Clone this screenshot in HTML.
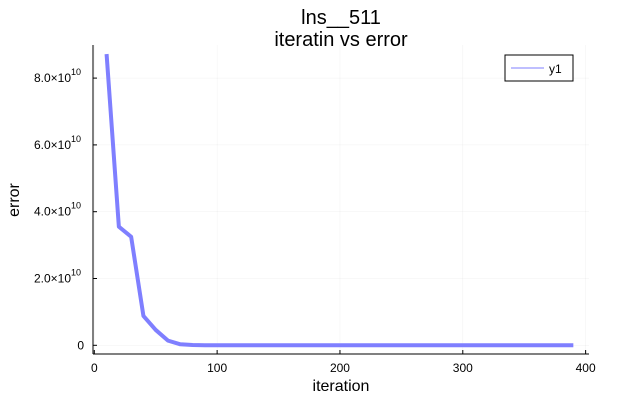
<!DOCTYPE html>
<html><head><meta charset="utf-8"><style>
body{margin:0;background:#fff;}
text{font-family:"Liberation Sans","DejaVu Sans",sans-serif;fill:#000;}
</style></head><body>
<svg id="chart" width="631" height="410" xmlns="http://www.w3.org/2000/svg">
<text x="341" y="24" font-size="20" text-anchor="middle">lns__511</text>
<text x="341" y="46" font-size="20" text-anchor="middle">iteratin vs error</text>
<g id="grid"></g>
<g id="ticks"></g>
<line x1="93" y1="45" x2="93" y2="354" stroke="#000" stroke-width="1"/>
<line x1="93" y1="354" x2="589" y2="354" stroke="#000" stroke-width="1"/>
<text x="341" y="391" font-size="16" text-anchor="middle">iteration</text>
<text transform="translate(19,200) rotate(-90)" font-size="16" text-anchor="middle">error</text>
<polyline id="series" fill="none" stroke="#7f7fff" stroke-width="4" stroke-linejoin="round"/>
<g>
<rect x="505" y="55" width="68" height="26" fill="#fff" stroke="#000" stroke-width="1"/>
<line x1="511" y1="68" x2="544" y2="68" stroke="#7f7fff" stroke-width="1"/>
<text x="549" y="73" font-size="12">y1</text>
</g>
</svg>
<script>
const xs=[10,20,30,40,50,60,70,80,90,100,110,120,130,140,150,160,170,180,190,200,210,220,230,240,250,260,270,280,290,300,310,320,330,340,350,360,370,380,390];
const ys=[8.72e10,3.55e10,3.25e10,0.88e10,0.46e10,0.14e10,0.03e10,0.01e10,0,0,0,0,0,0,0,0,0,0,0,0,0,0,0,0,0,0,0,0,0,0,0,0,0,0,0,0,0,0,0];
const xTicks=[0,100,200,300,400];
const yTicks=[0,2e10,4e10,6e10,8e10];
const yTickLabels=["0","2.0×10","4.0×10","6.0×10","8.0×10"];
const X=v=>94.3+v*1.2283;
const Y=v=>345.3-v*33.4e-10;
const ns="http://www.w3.org/2000/svg";
const grid=document.getElementById('grid'),ticks=document.getElementById('ticks');
function mk(tag,attrs,parent){const e=document.createElementNS(ns,tag);for(const k in attrs)e.setAttribute(k,attrs[k]);parent.appendChild(e);return e;}
xTicks.forEach(t=>{
 const g=mk('line',{x1:X(t),x2:X(t),y1:45,y2:354,stroke:'#000','stroke-opacity':0.06,'stroke-width':0.5},grid);
 
 
 mk('line',{x1:X(t),x2:X(t),y1:354,y2:350,stroke:'#000'},ticks);
 const l=mk('text',{x:X(t),y:372,'font-size':12,'text-anchor':'middle'},ticks);
 l.textContent=t;
 
 
});
yTicks.forEach((t,i)=>{
 const g=mk('line',{x1:93,x2:589,y1:Y(t),y2:Y(t),stroke:'#000','stroke-opacity':0.06,'stroke-width':0.5},grid);
 
 
 mk('line',{x1:93,x2:97,y1:Y(t),y2:Y(t),stroke:'#000'},ticks);
 const l=mk('text',{x:i===0?84:71,y:Y(t)+4,'font-size':12,'text-anchor':'end'},ticks);
 l.textContent=yTickLabels[i];
 
 
 if(i>0){const s=mk('text',{x:71,y:Y(t)-3,'font-size':9},ticks);s.textContent='10';
 
 }
});
document.getElementById('series').setAttribute('points',xs.map((x,i)=>X(x)+','+Y(ys[i])).join(' '));
</script>
</body></html>
